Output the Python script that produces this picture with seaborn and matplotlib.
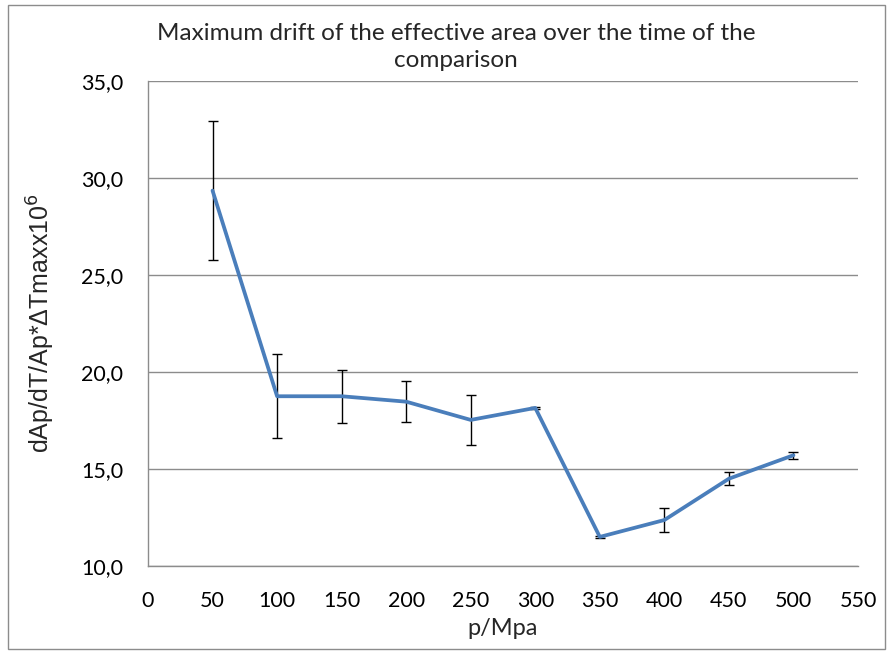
import matplotlib
matplotlib.use("Agg")
import matplotlib.pyplot as plt
import seaborn as sns
import pandas as pd
from matplotlib.patches import Rectangle

pressure = [50, 100, 150, 200, 250, 300, 350, 400, 450, 500]
drift = [29.35, 18.75, 18.75, 18.47, 17.53, 18.15, 11.5, 12.37, 14.5, 15.71]
error = [3.6, 2.17, 1.36, 1.05, 1.29, 0.05, 0.05, 0.6, 0.33, 0.17]
x_ticks = [0, 50, 100, 150, 200, 250, 300, 350, 400, 450, 500, 550]
y_ticks = [10, 15, 20, 25, 30, 35]
y_tick_labels = ["10,0", "15,0", "20,0", "25,0", "30,0", "35,0"]

df = pd.DataFrame({"p": pressure, "drift": drift, "err": error})

sns.set_style("white")
plt.rcParams["font.family"] = ["Lato", "DejaVu Sans"]

fig = plt.figure(figsize=(8.88, 6.53), dpi=100)
ax = fig.add_axes([148/888, 1-566/653, (858-148)/888, (566-81)/653])

fig.patches.append(Rectangle((8/888, 4/653), (885-8)/888, (648-4)/653,
                             transform=fig.transFigure, fill=False,
                             edgecolor="#8c8c8c", linewidth=1))

ax.errorbar(df["p"], df["drift"], yerr=df["err"], fmt="none", ecolor="black",
            elinewidth=1, capsize=3.5, capthick=1, zorder=3)
sns.lineplot(data=df, x="p", y="drift", ax=ax, color="#4A7EBB", linewidth=2.7,
             zorder=4)

ax.set_xlim(0, 550)
ax.set_ylim(10, 35)
ax.set_xticks(x_ticks)
ax.set_xticklabels([str(t) for t in x_ticks], fontsize=15.5)
ax.set_yticks(y_ticks)
ax.set_yticklabels(y_tick_labels, fontsize=15.5)
ax.tick_params(axis="both", length=0, colors="black")
ax.tick_params(axis="x", pad=18)
ax.tick_params(axis="y", pad=18)

ax.yaxis.grid(True, color="#8c8c8c", linewidth=1)
ax.xaxis.grid(False)
for s in ["top", "right"]:
    ax.spines[s].set_visible(False)
for s in ["left", "bottom"]:
    ax.spines[s].set_color("#8c8c8c")
    ax.spines[s].set_linewidth(1)

ax.set_xlabel("p/Mpa", fontsize=17, labelpad=5)
ax.set_ylabel("dAp/dT/Ap*ΔTmaxx10$^{6}$", fontsize=18,
              family=["Liberation Sans", "DejaVu Sans"], labelpad=17)
fig.text(456/888, 1-47/653,
         "Maximum drift of the effective area over the time of the\ncomparison",
         ha="center", va="center", fontsize=17.5, linespacing=1.3)

fig.savefig("out.png", dpi=100)
